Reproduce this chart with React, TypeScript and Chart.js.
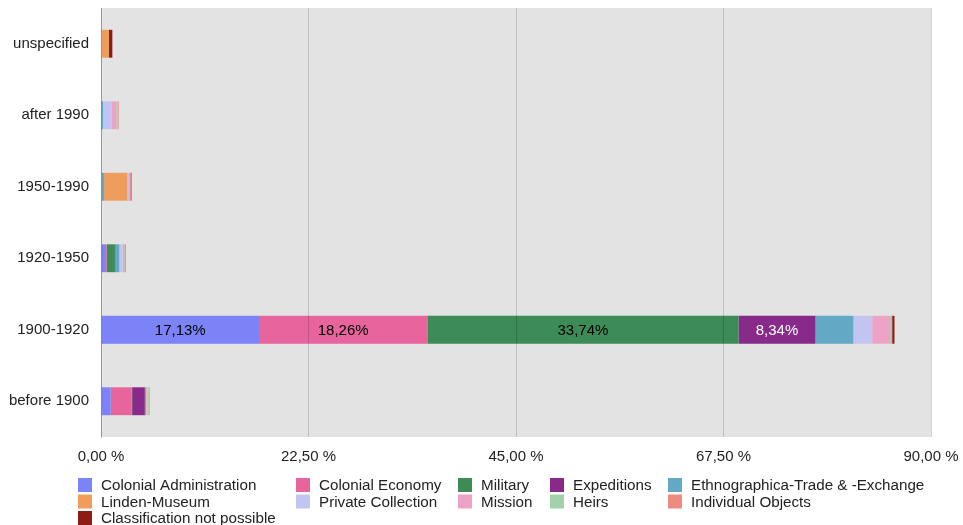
import React, { useEffect, useRef } from "react";
import { Chart, registerables } from "chart.js";

Chart.register(...registerables);

const categories = ["unspecified", "after 1990", "1950-1990", "1920-1950", "1900-1920", "before 1900"];

const seriesNames = [
  "Colonial Administration",
  "Colonial Economy",
  "Military",
  "Expeditions",
  "Ethnographica-Trade & -Exchange",
  "Linden-Museum",
  "Private Collection",
  "Mission",
  "Heirs",
  "Individual Objects",
  "Classification not possible",
];

const colonialAdministration = [0, 0, 0, 0.43, 17.13, 1.05];
const colonialEconomy = [0, 0, 0, 0.18, 18.26, 2.28];
const military = [0, 0, 0, 0.9, 33.74, 0.05];
const expeditions = [0, 0, 0, 0.05, 8.34, 1.37];
const ethnographicaTrade = [0, 0.22, 0.33, 0.43, 4.07, 0.12];
const lindenMuseum = [0.87, 0, 2.53, 0, 0.08, 0.05];
const privateCollection = [0, 0.94, 0.18, 0.36, 2.0, 0.1];
const mission = [0, 0.5, 0.1, 0.15, 1.95, 0.05];
const heirs = [0, 0.15, 0, 0.05, 0.12, 0.1];
const individualObjects = [0, 0.1, 0.15, 0.15, 0.1, 0.1];
const classificationNotPossible = [0.36, 0, 0.05, 0, 0.25, 0];

const seriesValues = [
  colonialAdministration,
  colonialEconomy,
  military,
  expeditions,
  ethnographicaTrade,
  lindenMuseum,
  privateCollection,
  mission,
  heirs,
  individualObjects,
  classificationNotPossible,
];

const seriesColors = [
  "#7b83f6",
  "#e8649d",
  "#3d8b57",
  "#872a8a",
  "#63a9c5",
  "#ee9d5c",
  "#c2c4f1",
  "#eda3c6",
  "#a3d1ac",
  "#ef8a80",
  "#8b1d12",
];

const labelColors = ["#000", "#000", "#000", "#fff", "#000", "#000", "#000", "#000", "#000", "#000", "#000"];

const xTickValues = [0, 22.5, 45, 67.5, 90];

const FONT = "'Liberation Sans', Arial, sans-serif";

const fmt = (v: number, sep: string) => v.toFixed(2).replace(".", ",") + sep;

const bgPlugin = {
  id: "plotBg",
  beforeDraw(chart: any) {
    const { ctx, chartArea } = chart;
    ctx.save();
    ctx.fillStyle = "#e3e3e3";
    ctx.fillRect(chartArea.left, chartArea.top, chartArea.right - chartArea.left, chartArea.bottom - chartArea.top);
    ctx.restore();
  },
};

const dataLabelPlugin = {
  id: "dataLabels",
  afterDatasetsDraw(chart: any) {
    const { ctx } = chart;
    ctx.save();
    ctx.font = `15px ${FONT}`;
    ctx.textAlign = "center";
    ctx.textBaseline = "middle";
    chart.data.datasets.forEach((ds: any, di: number) => {
      const meta = chart.getDatasetMeta(di);
      meta.data.forEach((el: any, i: number) => {
        const v = ds.data[i];
        if (v >= 5) {
          ctx.fillStyle = labelColors[di];
          ctx.fillText(fmt(v, "%"), (el.x + el.base) / 2, el.y + 1);
        }
      });
    });
    ctx.restore();
  },
};

const legendCols = [78, 296, 458, 550, 668];
const legendRows = [485, 501.5, 518];

const legendPlugin = {
  id: "gridLegend",
  afterDraw(chart: any) {
    const { ctx } = chart;
    ctx.save();
    ctx.font = `15.2px ${FONT}`;
    ctx.textAlign = "left";
    ctx.textBaseline = "middle";
    seriesNames.forEach((name, i) => {
      const col = i < 10 ? i % 5 : 0;
      const row = Math.floor(i / 5);
      const x = legendCols[col];
      const y = legendRows[row];
      ctx.fillStyle = seriesColors[i];
      ctx.fillRect(x, y - 7, 14, 14);
      ctx.fillStyle = "#222";
      ctx.fillText(name, x + 23, y + 1);
    });
    ctx.restore();
  },
};

const zeroPadding = (scale: any) => {
  scale.paddingTop = 0;
  scale.paddingBottom = 0;
  scale.paddingLeft = 0;
  scale.paddingRight = 0;
};

export default function App() {
  const ref = useRef<HTMLCanvasElement | null>(null);

  useEffect(() => {
    if (!ref.current) return;
    const chart = new Chart(ref.current, {
      type: "bar",
      data: {
        labels: categories,
        datasets: seriesNames.map((name, i) => ({
          label: name,
          data: seriesValues[i],
          backgroundColor: seriesColors[i],
          borderWidth: 0,
          barPercentage: 0.39,
          categoryPercentage: 1,
        })),
      },
      options: {
        indexAxis: "y",
        animation: false,
        responsive: true,
        maintainAspectRatio: false,
        layout: { padding: { left: 0, right: 32, top: 8, bottom: 58 } },
        plugins: {
          legend: { display: false },
          tooltip: { enabled: false },
        },
        scales: {
          x: {
            stacked: true,
            min: 0,
            max: 90,
            afterBuildTicks: (scale: any) => {
              scale.ticks = xTickValues.map((v) => ({ value: v }));
            },
            afterFit: (scale: any) => {
              scale.height = 30;
              zeroPadding(scale);
            },
            grid: { color: "rgba(0,0,0,0.16)", drawTicks: false, z: 1, lineWidth: 1 },
            border: { display: false },
            ticks: {
              padding: 11,
              color: "#222",
              font: { size: 15, family: FONT },
              callback: (v: any) => fmt(Number(v), " %"),
              maxRotation: 0,
            },
          },
          y: {
            stacked: true,
            afterFit: (scale: any) => {
              scale.width = 101;
              zeroPadding(scale);
            },
            grid: { display: false, drawTicks: false },
            border: { display: true, color: "rgba(0,0,0,0.2)" },
            ticks: {
              padding: 12,
              color: "#222",
              font: { size: 15, family: FONT },
            },
          },
        },
      },
      plugins: [bgPlugin, dataLabelPlugin, legendPlugin],
    } as any);
    return () => chart.destroy();
  }, []);

  return (
    <div style={{ position: "fixed", left: 0, top: 0, width: 963, height: 525 }}>
      <canvas ref={ref} />
    </div>
  );
}
